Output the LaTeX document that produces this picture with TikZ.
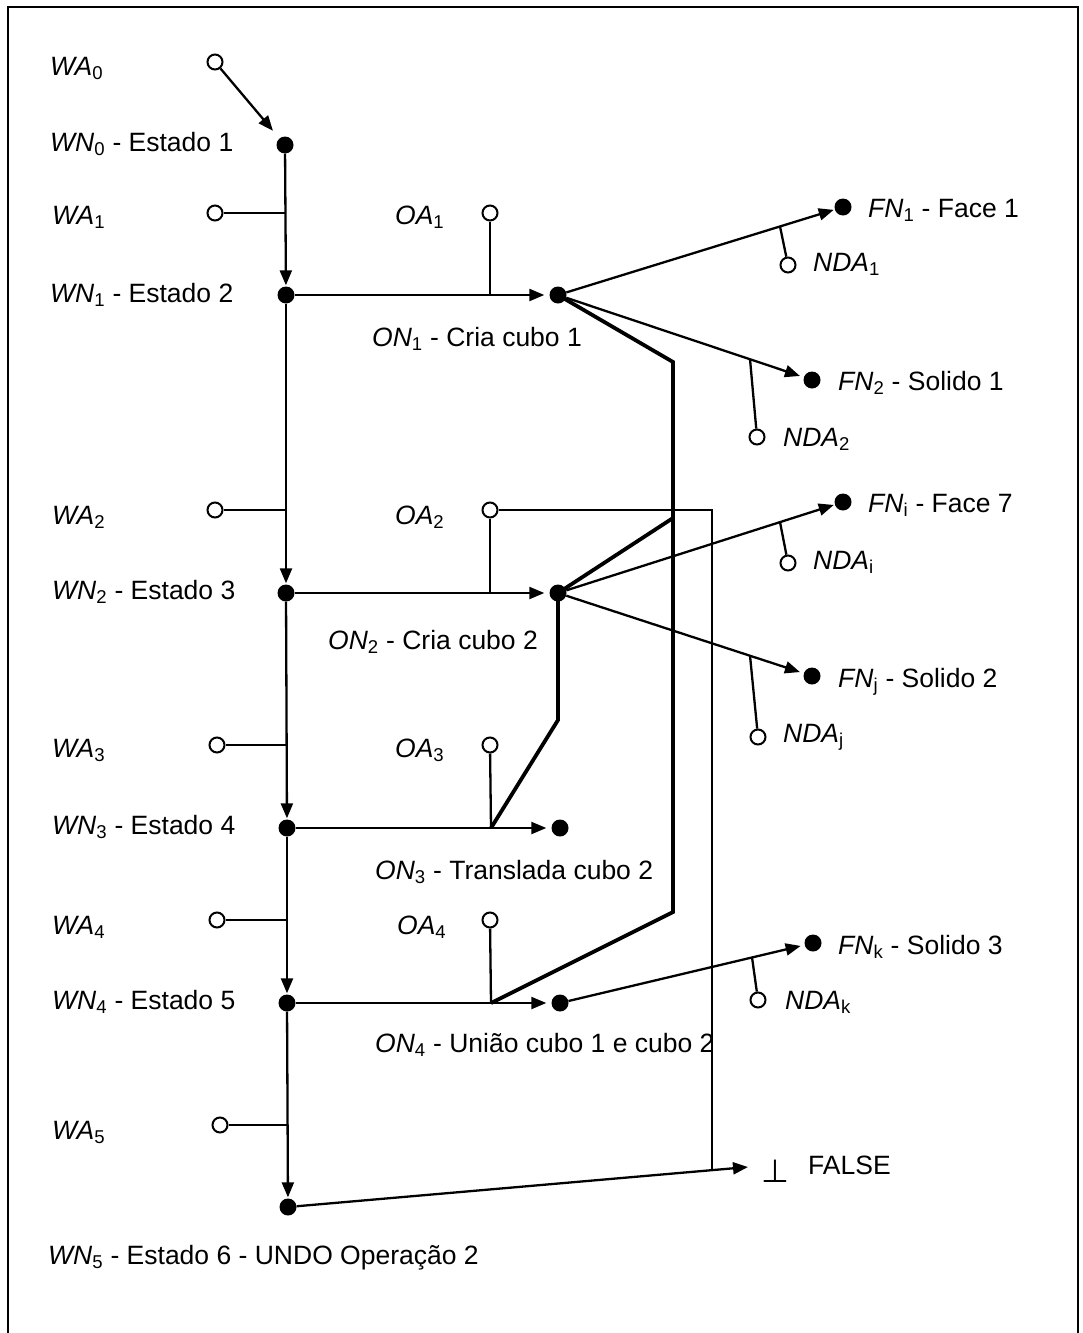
\documentclass[tikz,border=0pt]{standalone}
\usepackage{fontspec}
\setmainfont{Liberation Sans}
\newfontfamily\symfont{DejaVu Sans}
\usetikzlibrary{arrows.meta}
\newcommand\sublbl[2]{\textit{#1}\textsubscript{#2}}
\begin{document}
\begin{tikzpicture}[x=1pt,y=-1pt,
  dotnode/.style={circle,fill=black,inner sep=0,minimum size=17pt},
  opennode/.style={circle,draw=black,fill=white,line width=2pt,inner sep=0,minimum size=15pt},
  lbl/.style={anchor=base west,inner sep=0,font=\fontsize{26.5}{30}\selectfont},
  conn/.style={line width=2.3pt},
  arr/.style={conn,-{Triangle[length=15pt,width=12pt]}},
  heavy/.style={line width=3.8pt,line join=miter},
  fine/.style={line width=1.1pt}]
\useasboundingbox (0,0) rectangle (1082,1333);
\fill[white] (0,0) rectangle (1082,1333);
\draw[line width=1.5pt] (8,1333) -- (8,7) -- (1078,7) -- (1078,1333);

% world nodes
\node[dotnode] (wn0) at (285,145) {};
\node[dotnode] (wn1) at (286,295) {};
\node[dotnode] (wn2) at (286,593) {};
\node[dotnode] (wn3) at (287,828) {};
\node[dotnode] (wn4) at (287,1003) {};
\node[dotnode] (wn5) at (288,1207) {};
% world actions
\node[opennode] (wa0) at (215,62) {};
\node[opennode] (wa1) at (215,213) {};
\node[opennode] (wa2) at (215,510) {};
\node[opennode] (wa3) at (217,745) {};
\node[opennode] (wa4) at (217,920) {};
\node[opennode] (wa5) at (220,1125) {};
\coordinate (jw1) at (285.5,213);
\coordinate (jw2) at (286,510);
\coordinate (jw3) at (286.5,745);
\coordinate (jw4) at (287,920);
\coordinate (jw5) at (287.5,1125);
% operation nodes
\node[dotnode] (on1) at (558,295) {};
\node[dotnode] (on2) at (558,593) {};
\node[dotnode] (on3) at (560,828) {};
\node[dotnode] (on4) at (560,1003) {};
\node[opennode] (oa1) at (490,213) {};
\node[opennode] (oa2) at (490,510) {};
\node[opennode] (oa3) at (490,745) {};
\node[opennode] (oa4) at (490,920) {};
\coordinate (j1) at (490,295);
\coordinate (j2) at (490,593);
\coordinate (j3) at (491,828);
\coordinate (j4) at (491,1003);
% face / solid nodes
\node[dotnode] (fn1) at (843,207) {};
\node[dotnode] (fn2) at (812,380) {};
\node[dotnode] (fni) at (843,502) {};
\node[dotnode] (fnj) at (812,676) {};
\node[dotnode] (fnk) at (813,943) {};
\node[opennode] (nda1) at (788,265) {};
\node[opennode] (nda2) at (757,437) {};
\node[opennode] (ndai) at (788,563) {};
\node[opennode] (ndaj) at (758,737) {};
\node[opennode] (ndak) at (758,1000) {};
\path (on1.center) -- (fn1.center) coordinate[pos=0.779] (t1);
\path (on1.center) -- (fn2.center) coordinate[pos=0.756] (t2);
\path (on2.center) -- (fni.center) coordinate[pos=0.779] (ti);
\path (on2.center) -- (fnj.center) coordinate[pos=0.756] (tj);
\path (on4.center) -- (fnk.center) coordinate[pos=0.759] (tk);
% false
\node[inner sep=0,font=\symfont\fontsize{32}{32}\selectfont] (bot) at (775,1171) {⊥};
\coordinate (fa) at (748,1167);
\coordinate (fv) at (712,1170);
\coordinate (fc) at (712,510);
% thick bends
\coordinate (c1) at (673,362);
\coordinate (c2) at (673,912);
\coordinate (c3) at (673,518);
\coordinate (c4) at (558,720);

% main chain
\draw[arr,shorten >=10pt] (wa0) -- (wn0);
\draw[arr,shorten >=1pt] (wn0) -- (wn1);
\draw[arr,shorten >=1pt] (wn1) -- (wn2);
\draw[arr,shorten >=1pt] (wn2) -- (wn3);
\draw[arr,shorten >=1pt] (wn3) -- (wn4);
\draw[arr,shorten >=1pt] (wn4) -- (wn5);
\foreach \i in {1,...,5} \draw[conn] (wa\i) -- (jw\i);
% operations
\draw[arr,shorten >=5pt] (wn1) -- (on1);
\draw[arr,shorten >=5pt] (wn2) -- (on2);
\draw[arr,shorten >=5pt] (wn3) -- (on3);
\draw[arr,shorten >=5pt] (wn4) -- (on4);
\draw[conn] (oa1) -- (j1);
\draw[conn] (oa2) -- (j2);
\draw[conn] (oa3) -- (j3);
\draw[conn] (oa4) -- (j4);
% faces / solids
\draw[arr,shorten >=1pt] (on1) -- (fn1);
\draw[arr,shorten >=4pt] (on1) -- (fn2);
\draw[arr,shorten >=1pt] (on2) -- (fni);
\draw[arr,shorten >=4pt] (on2) -- (fnj);
\draw[arr,shorten >=4pt] (on4) -- (fnk);
\draw[conn] (t1) -- (nda1);
\draw[conn] (t2) -- (nda2);
\draw[conn] (ti) -- (ndai);
\draw[conn] (tj) -- (ndaj);
\draw[conn] (tk) -- (ndak);
% thick links
\draw[heavy] (on1.center) -- (c1) -- (c2) -- (j4);
\draw[heavy] (on2.center) -- (c3);
\draw[heavy] (on2.center) -- (c4) -- (j3);
% undo
\draw[fine] (oa2) -- (fc) -- (fv);
\draw[arr] (wn5) -- (fa);

% labels
\node[lbl] (lwa0) at (50,75) {\sublbl{WA}{0}};
\node[lbl] (lwn0) at (50,151) {\sublbl{WN}{0} - Estado 1};
\node[lbl] (lwa1) at (52,224) {\sublbl{WA}{1}};
\node[lbl] (lwn1) at (50,302) {\sublbl{WN}{1} - Estado 2};
\node[lbl] (loa1) at (395,224) {\sublbl{OA}{1}};
\node[lbl] (lon1) at (372,346) {\sublbl{ON}{1} - Cria cubo 1};
\node[lbl] (lfn1) at (868,217) {\sublbl{FN}{1} - Face 1};
\node[lbl] (lnda1) at (813,271) {\sublbl{NDA}{1}};
\node[lbl] (lfn2) at (838,390) {\sublbl{FN}{2} - Solido 1};
\node[lbl] (lnda2) at (783,446) {\sublbl{NDA}{2}};
\node[lbl] (lwa2) at (52,524) {\sublbl{WA}{2}};
\node[lbl] (loa2) at (395,524) {\sublbl{OA}{2}};
\node[lbl] (lfni) at (868,512) {\sublbl{FN}{i} - Face 7};
\node[lbl] (lndai) at (813,569) {\sublbl{NDA}{i}};
\node[lbl] (lwn2) at (52,599) {\sublbl{WN}{2} - Estado 3};
\node[lbl] (lon2) at (328,649) {\sublbl{ON}{2} - Cria cubo 2};
\node[lbl] (lfnj) at (838,687) {\sublbl{FN}{j} - Solido 2};
\node[lbl] (lndaj) at (783,742) {\sublbl{NDA}{j}};
\node[lbl] (lwa3) at (52,757) {\sublbl{WA}{3}};
\node[lbl] (loa3) at (395,757) {\sublbl{OA}{3}};
\node[lbl] (lwn3) at (52,834) {\sublbl{WN}{3} - Estado 4};
\node[lbl] (lon3) at (375,879) {\sublbl{ON}{3} - Translada cubo 2};
\node[lbl] (lwa4) at (52,934) {\sublbl{WA}{4}};
\node[lbl] (loa4) at (397,934) {\sublbl{OA}{4}};
\node[lbl] (lfnk) at (838,954) {\sublbl{FN}{k} - Solido 3};
\node[lbl] (lwn4) at (52,1009) {\sublbl{WN}{4} - Estado 5};
\node[lbl] (lndak) at (785,1009) {\sublbl{NDA}{k}};
\node[lbl] (lon4) at (375,1052) {\sublbl{ON}{4} - União cubo 1 e cubo 2};
\node[lbl] (lwa5) at (52,1139) {\sublbl{WA}{5}};
\node[lbl] (lfalse) at (808,1174) {FALSE};
\node[lbl] (lwn5) at (48,1264) {\sublbl{WN}{5} - Estado 6 - UNDO Operação 2};
\end{tikzpicture}
\end{document}
